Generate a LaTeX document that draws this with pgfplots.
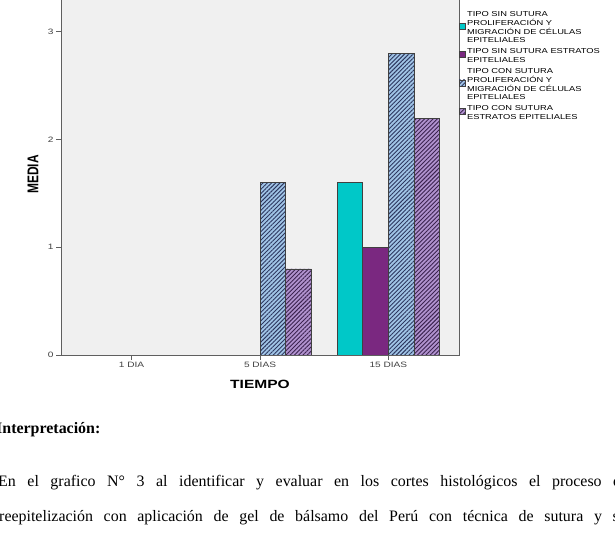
\documentclass[border=0pt]{standalone}
\usepackage{pgfplots}
\pgfplotsset{compat=1.18}
\usepackage{fontspec}
\setmainfont{Liberation Serif}
\newfontfamily\arial{Liberation Sans}
\usetikzlibrary{patterns.meta}
\usepackage{graphicx}

\definecolor{bg}{RGB}{240,240,240}
\definecolor{cy}{RGB}{0,200,200}
\definecolor{pu}{RGB}{122,40,128}
\definecolor{lb}{RGB}{160,196,230}
\definecolor{lp}{RGB}{176,146,206}
\definecolor{hb}{RGB}{45,55,95}
\definecolor{hp}{RGB}{60,35,80}
\definecolor{ax}{RGB}{95,95,95}

\newcommand\sx[1]{\scalebox{1.3}[1]{#1}}
\newcommand\legtext[1]{\scalebox{1.3}[1]{\arial\fontsize{7.2}{8.4}\selectfont\begin{tabular}{@{}l@{}}#1\end{tabular}}}

\begin{document}
\begin{tikzpicture}
\begin{axis}[
  at={(61bp,180bp)}, anchor=south west, scale only axis,
  width=398bp, height=360.8bp,
  xmin=-0.55, xmax=2.55, ymin=0, ymax=3.35,
  ybar, bar width=0.2,
  axis background/.style={fill=bg},
  axis line style={draw=ax, line width=0.9bp},
  xtick={0,1,2}, xticklabels={\sx{1 DIA},\sx{5 DIAS},\sx{15 DIAS}},
  ytick={0,1,2,3}, yticklabels={\sx{0},\sx{1},\sx{2},\sx{3}},
  tick align=outside, tick pos=left, major tick length=5bp,
  tick style={draw=ax, line width=0.9bp},
  ticklabel style={font=\arial\fontsize{7.8}{8}\selectfont, text=black!75},
  xticklabel style={yshift=1bp},
  yticklabel style={xshift=1bp},
  xlabel={\sx{TIEMPO}}, ylabel={\scalebox{1}[1.3]{MEDIA}},
  label style={font=\arial\bfseries\fontsize{12}{14}\selectfont},
  xlabel style={at={(axis description cs:0.5,-0.0804)}, anchor=center},
  ylabel style={at={(axis description cs:-0.0704,0.5)}, anchor=center},
  every axis plot/.append style={draw=black!75, line width=0.6bp},
  legend cell align=left,
  legend image code/.code={\draw[#1] (4.5bp,-1.3bp) rectangle (10.5bp,4.9bp);},
  legend style={at={(axis description cs:1,0.958)}, anchor=north west,
    draw=none, fill=none, inner sep=0pt, outer sep=0pt,
    row sep=0pt, column sep=0pt,
    nodes={inner sep=1.5bp, outer sep=0pt, text depth=, text height=}},
]
\addplot[bar shift=-0.3, fill=cy] coordinates {(2,1.6)};
\addlegendentry{\legtext{TIPO SIN SUTURA\\PROLIFERACIÓN Y\\MIGRACIÓN DE CÉLULAS\\EPITELIALES}}
\addplot[bar shift=-0.1, fill=pu] coordinates {(2,1.0)};
\addlegendentry{\legtext{TIPO SIN SUTURA ESTRATOS\\EPITELIALES}}
\addplot[bar shift=0.1, fill=lb,
  postaction={pattern={Lines[angle=45,distance=3bp,line width=0.9bp]}, pattern color=hb}]
  coordinates {(1,1.6) (2,2.8)};
\addlegendentry{\legtext{TIPO CON SUTURA\\PROLIFERACIÓN Y\\MIGRACIÓN DE CÉLULAS\\EPITELIALES}}
\addplot[bar shift=0.3, fill=lp,
  postaction={pattern={Lines[angle=45,distance=3bp,line width=0.9bp]}, pattern color=hp}]
  coordinates {(1,0.8) (2,2.2)};
\addlegendentry{\legtext{TIPO CON SUTURA\\ESTRATOS EPITELIALES}}
\end{axis}
\node[anchor=base west, inner sep=0pt, font=\fontsize{16}{18}\selectfont\bfseries] at (-4bp,101bp) {Interpretación:};
\node[anchor=base west, inner sep=0pt, font=\fontsize{16}{18}\selectfont] at (-2bp,48bp)
  {\makebox[630bp][s]{En el grafico N° 3 al identificar y evaluar en los cortes histológicos el proceso de}};
\node[anchor=base west, inner sep=0pt, font=\fontsize{16}{18}\selectfont] at (-1bp,14bp)
  {\makebox[632bp][s]{reepitelización con aplicación de gel de bálsamo del Perú con técnica de sutura y sin}};
\pgfresetboundingbox
\useasboundingbox (0,0) rectangle (615bp,535bp);
\end{tikzpicture}
\end{document}
